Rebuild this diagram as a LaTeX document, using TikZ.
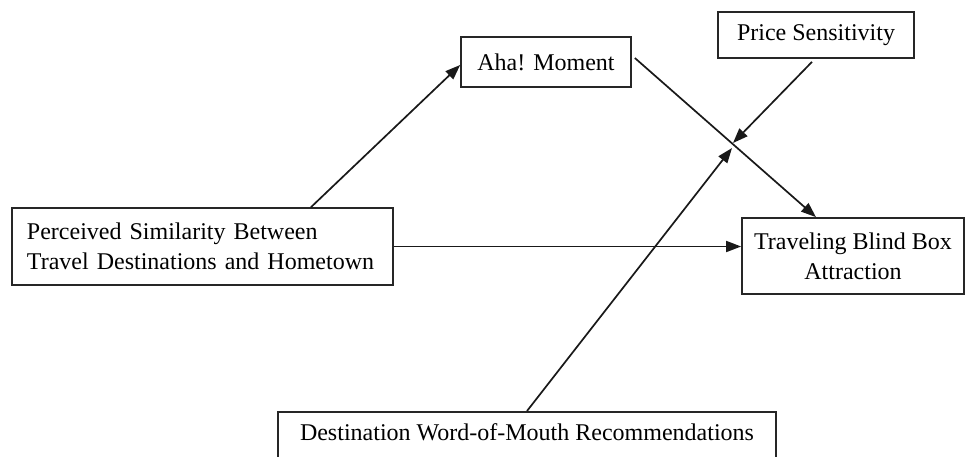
\documentclass[tikz,border=0pt]{standalone}
\usepackage{fontspec}
\setmainfont{Liberation Serif}
\usetikzlibrary{arrows.meta,calc}
\begin{document}
\begin{tikzpicture}[x=1pt,y=-1pt,
  box/.style={draw=black!85,line width=1.7pt,rectangle,inner sep=0pt,
    font=\fontsize{24}{30}\selectfont,text=black},
  conn/.style={line width=1.7pt,draw=black!90,-{Triangle[length=15pt,width=11pt]}}]
\useasboundingbox (0,0) rectangle (966,456);
\fill[white] (0,0) rectangle (966,456);
\begin{scope}
\clip (0,0) rectangle (966,456);
\node[box,minimum width=381pt,minimum height=77pt,text width=351pt,align=left] (perc) at (202.5,246.5)
  {Perceived Similarity Between\\Travel Destinations and Hometown};
\node[box,minimum width=170pt,minimum height=50pt] (aha) at (546,62) {Aha! Moment};
\node[box,minimum width=196pt,minimum height=46pt] (price) at (816,35) {Price Sensitivity};
\node[box,minimum width=222pt,minimum height=76pt,align=center] (tbb) at (853,256)
  {Traveling Blind Box\\Attraction};
\node[box,minimum width=498pt,minimum height=52pt,anchor=north] (dest) at (527,411)
  {\raisebox{11pt}{Destination Word-of-Mouth Recommendations}};
\coordinate (hitP) at (733,143);
\coordinate (hitD) at (732,148);
\draw[conn] ([xshift=108.5pt]perc.north) -- ([yshift=-3pt]aha.west);
\draw[conn] ([xshift=3pt,yshift=2pt]aha.north east |- 0,60) -- ([xshift=-37pt]tbb.north);
\draw[conn] (perc.east) -- (tbb.west |- perc.east);
\draw[conn] ([xshift=-4pt,yshift=-3pt]price.south) -- (hitP);
\draw[conn] (dest.north) -- (hitD);
\end{scope}
\end{tikzpicture}
\end{document}
